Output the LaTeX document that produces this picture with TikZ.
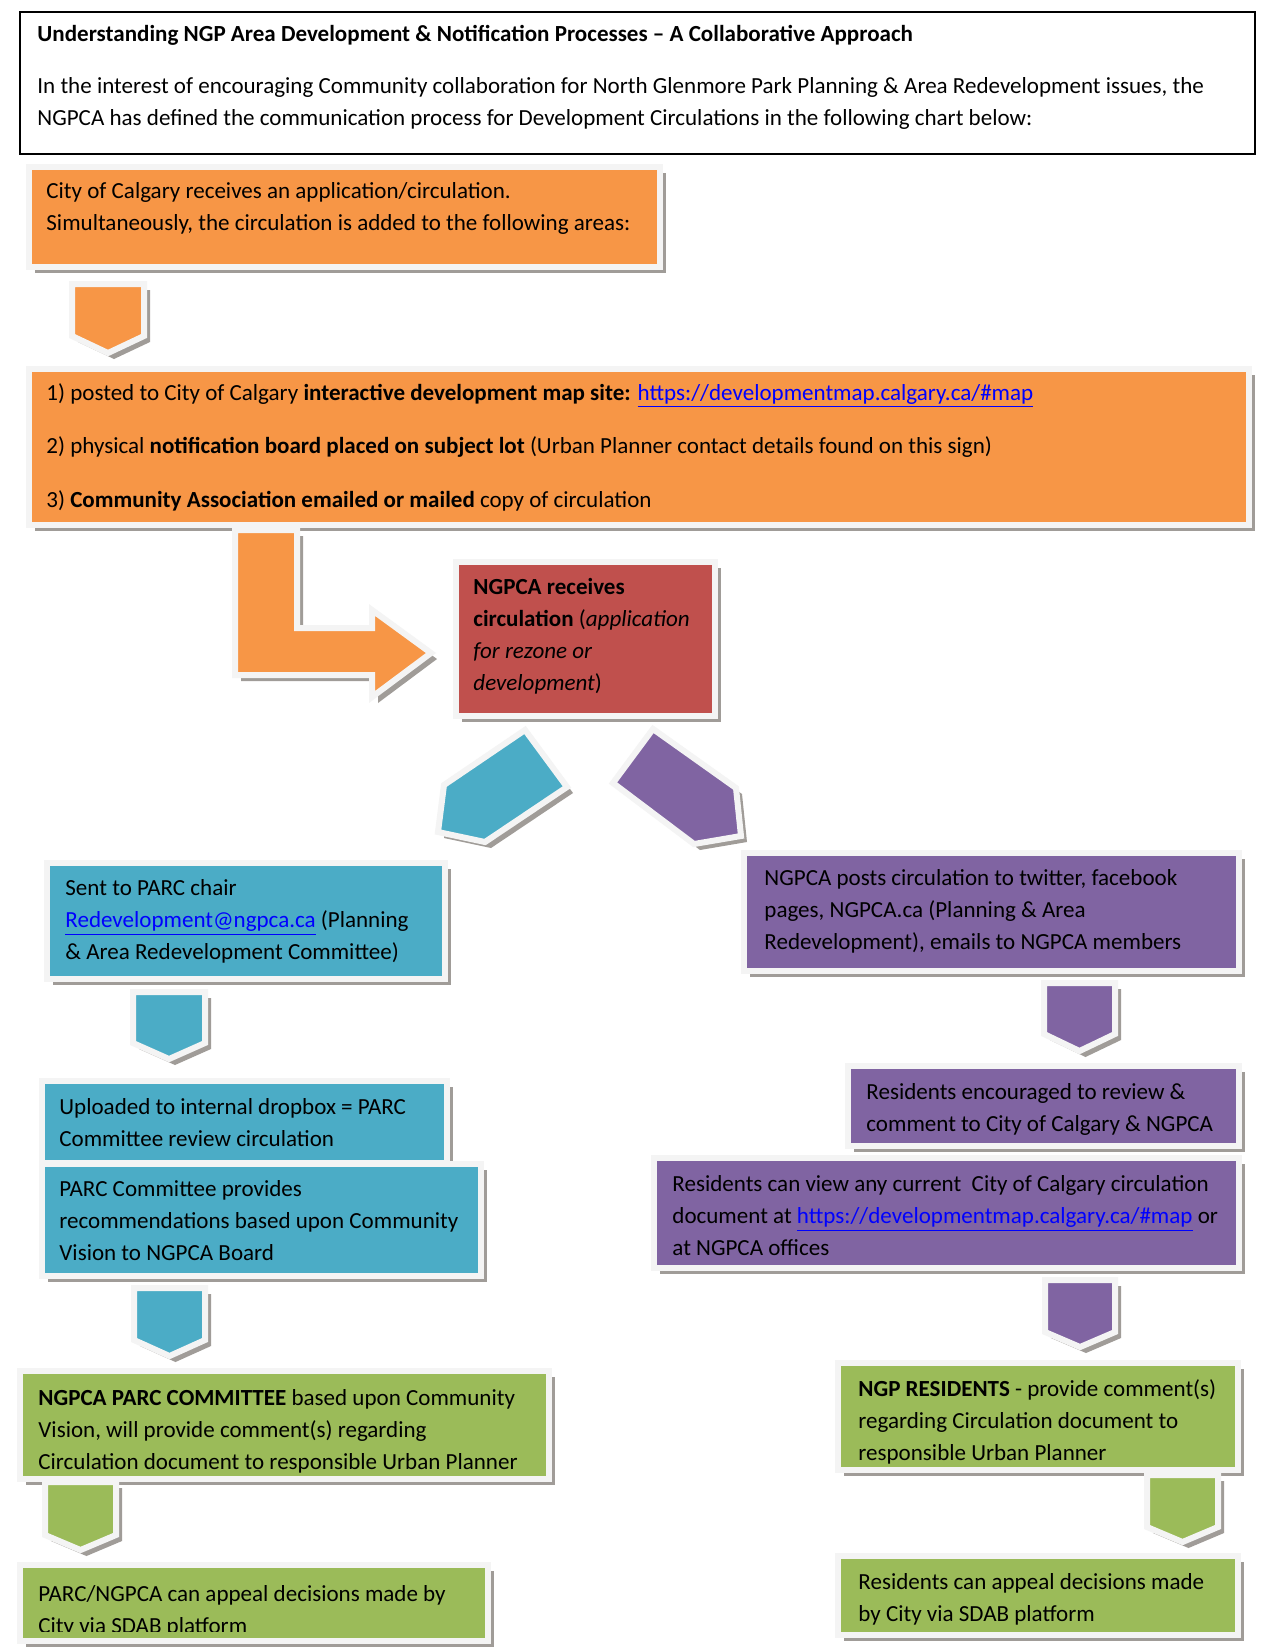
\documentclass[tikz,border=0pt]{standalone}
\usepackage{fontspec}
\setmainfont{Carlito}
\usetikzlibrary{shadows}
\newcommand\pxu{0.48181pt}
\definecolor{cOrange}{HTML}{F79646}
\definecolor{cRed}{HTML}{C0504D}
\definecolor{cTeal}{HTML}{4BACC6}
\definecolor{cPurple}{HTML}{8064A2}
\definecolor{cGreen}{HTML}{9BBB59}
\definecolor{cFrame}{HTML}{F4F4F4}
\definecolor{cShadow}{HTML}{A09C98}
\definecolor{cLink}{HTML}{0000FF}
\newcommand\lnk[1]{\textcolor{cLink}{\underline{#1}}}
\tikzset{
  framed/.style={draw=cFrame, line width=6*\pxu, line join=miter,
    drop shadow={shadow xshift=6*\pxu, shadow yshift=-6*\pxu, fill=cShadow, opacity=1}},
  boxsty/.style={framed, rectangle, inner sep=0pt, outer sep=0pt, anchor=north west},
  txt/.style={anchor=base west, inner sep=0pt, align=left, font=\fontsize{11.1}{15.4}\selectfont},
}
% name, colour, x1, y1, x2, y2 (fill region)
\newcommand\cbox[6]{\node[boxsty, fill=#2, minimum width={(#5-#3+6)*\pxu}, minimum height={(#6-#4+6)*\pxu}] (#1) at (#3-3,#4-3) {};}
% colour, x1, x2, top, shoulder, tip
\newcommand\darrow[6]{\draw[framed, fill=#1] (#2,#4) -- (#3,#4) -- (#3,#5) -- ({(#2+#3)/2},#6) -- (#2,#5) -- cycle;}
\begin{document}
\begin{tikzpicture}[x=0.48181pt, y=-0.48181pt]
\useasboundingbox (0,0) rectangle (1275,1650);
\fill[white] (0,0) rectangle (1275,1650);

% header (text nodes are anchored at the baseline of their last line)
\node[draw=black, line width=1.1pt, inner sep=0pt, anchor=north west,
  minimum width=1235*\pxu, minimum height=142*\pxu] (header) at (19,11) {};
\node[txt, font=\fontsize{11.1}{15.4}\selectfont\bfseries] (title) at (37,41)
  {Understanding NGP Area Development \& Notification Processes -- A Collaborative Approach};
\node[txt] (intro) at (37,125)
  {In the interest of encouraging Community collaboration for North Glenmore Park Planning \& Area Redevelopment issues, the\\
   NGPCA has defined the communication process for Development Circulations in the following chart below:};

% orange
\cbox{b1}{cOrange}{32}{170}{657}{264}
\node[txt] (t1) at (46,230) {City of Calgary receives an application/circulation.\\Simultaneously, the circulation is added to the following areas:};
\darrow{cOrange}{72}{144}{284}{336}{353}
\cbox{b2}{cOrange}{32}{372}{1246}{522}
\node[txt] (t2a) at (46,400) {1) posted to City of Calgary \textbf{interactive development map site:} \lnk{https://developmentmap.calgary.ca/\#map}};
\node[txt] (t2b) at (46,453) {2) physical \textbf{notification board placed on subject lot} (Urban Planner contact details found on this sign)};
\node[txt] (t2c) at (46,507) {3) \textbf{Community Association emailed or mailed} copy of circulation};
\draw[framed, fill=cOrange] (235,530) -- (297,530) -- (297,628) -- (372,628) -- (372,610)
  -- (431,653) -- (372,697) -- (372,675) -- (235,675) -- cycle;

% red
\cbox{red}{cRed}{459}{565}{712}{713}
\node[txt] (tred) at (473,690) {\textbf{NGPCA receives}\\\textbf{circulation} (\textit{application}\\\textit{for rezone or}\\\textit{development})};

% diagonal arrows
\draw[framed, fill=cTeal] (525,730) -- (567,787) -- (485,842) -- (438,832) -- (444,785) -- cycle;
\draw[framed, fill=cPurple] (653,729) -- (736,788) -- (741,836) -- (694,844) -- (613,783) -- cycle;

% teal column
\cbox{tb1}{cTeal}{50}{866}{442}{976}
\node[txt] (tt1) at (65,959) {Sent to PARC chair\\\lnk{Redevelopment@ngpca.ca} (Planning\\\& Area Redevelopment Committee)};
\darrow{cTeal}{133}{205}{992}{1043}{1059}
\cbox{tb2}{cTeal}{45}{1084}{444}{1160}
\cbox{tb3}{cTeal}{45}{1167}{478}{1273}
\node[txt] (tt2) at (59,1146) {Uploaded to internal dropbox = PARC\\Committee review circulation};
\node[txt] (tt3) at (59,1260) {PARC Committee provides\\recommendations based upon Community\\Vision to NGPCA Board};
\darrow{cTeal}{134}{205}{1288}{1340}{1356}

% green left
\cbox{g1}{cGreen}{23}{1374}{546}{1476}
\node[txt] (tg1) at (38,1469) {\textbf{NGPCA PARC COMMITTEE} based upon Community\\Vision, will provide comment(s) regarding\\Circulation document to responsible Urban Planner};
\darrow{cGreen}{45}{116}{1482}{1535}{1550}
\cbox{g2}{cGreen}{23}{1568}{485}{1638}
\begin{scope}
\clip (0,0) rectangle (1275,1631);
\node[txt] (tg2) at (38,1633) {PARC/NGPCA can appeal decisions made by\\City via SDAB platform};
\end{scope}

% purple column
\cbox{p1}{cPurple}{747}{856}{1236}{968}
\node[txt] (tp1) at (764,949) {NGPCA posts circulation to twitter, facebook\\pages, NGPCA.ca (Planning \& Area\\Redevelopment), emails to NGPCA members};
\darrow{cPurple}{1044}{1115}{983}{1034}{1051}
\cbox{p2}{cPurple}{851}{1069}{1236}{1143}
\node[txt] (tp2) at (866,1131) {Residents encouraged to review \&\\comment to City of Calgary \& NGPCA};
\cbox{p3}{cPurple}{657}{1161}{1236}{1265}
\node[txt] (tp3) at (672,1255) {Residents can view any current\ \ City of Calgary circulation\\document at \lnk{https://developmentmap.calgary.ca/\#map} or\\at NGPCA offices};
\darrow{cPurple}{1045}{1115}{1280}{1332}{1347}

% green right
\cbox{g3}{cGreen}{841}{1366}{1235}{1467}
\node[txt] (tg3) at (858,1460) {\textbf{NGP RESIDENTS} - provide comment(s)\\regarding Circulation document to\\responsible Urban Planner};
\darrow{cGreen}{1147}{1218}{1475}{1527}{1542}
\cbox{g4}{cGreen}{841}{1559}{1235}{1632}
\node[txt] (tg4) at (858,1621) {Residents can appeal decisions made\\by City via SDAB platform};
\end{tikzpicture}
\end{document}
